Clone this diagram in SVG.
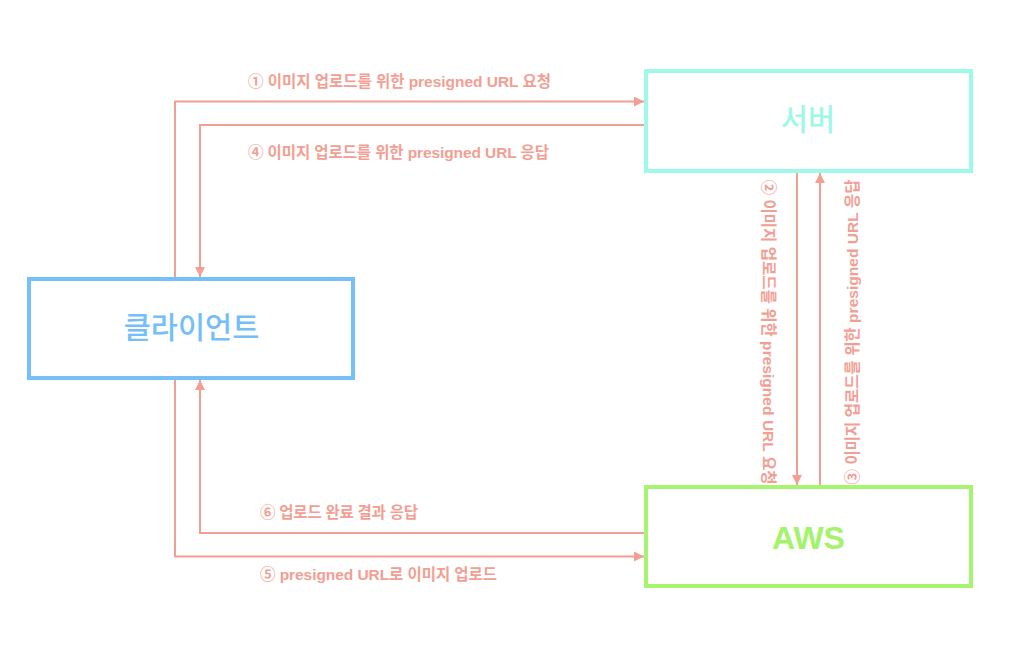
<svg xmlns="http://www.w3.org/2000/svg" width="1019" height="656" viewBox="0 0 1019 656">
<defs>
<style>
.box{fill:#ffffff;stroke-width:4}
.conn{fill:none;stroke:#F39E92;stroke-width:2}
.lbl{font-family:"Liberation Sans","Noto Sans CJK KR",sans-serif;font-weight:bold;font-size:15.5px;fill:#F39E92}
.node{font-family:"Noto Sans CJK KR",sans-serif;font-weight:500;font-size:29.5px;text-anchor:middle}
</style>
<marker id="arr" viewBox="0 0 10 10" refX="10" refY="5" markerWidth="11" markerHeight="10" markerUnits="userSpaceOnUse" orient="auto">
<path d="M0,0 L10,5 L0,10 Z" fill="#F39E92"/>
</marker>
</defs>
<rect width="1019" height="656" fill="#ffffff"/>
<g id="server">
<rect class="box" x="646" y="71" width="325" height="100" stroke="#9FF9E9"/>
<text class="node" x="808" y="130" fill="#9EF8E8">서버</text>
</g>
<g id="client">
<rect class="box" x="29" y="279" width="324" height="99" stroke="#76C0FA"/>
<text class="node" x="191.5" y="338" fill="#74BEF9">클라이언트</text>
</g>
<g id="aws">
<rect class="box" x="646" y="487" width="325" height="99" stroke="#A5F56E"/>
<text x="808.5" y="549" text-anchor="middle" font-family="Liberation Sans, sans-serif" font-weight="bold" font-size="32" fill="#A3F36B">AWS</text>
</g>
<g id="connectors">
<path class="conn" d="M175,277 V101.5 H644" marker-end="url(#arr)"/>
<path class="conn" d="M644,125 H200 V277" marker-end="url(#arr)"/>
<path class="conn" d="M797,173 V485" marker-end="url(#arr)"/>
<path class="conn" d="M820,485 V173" marker-end="url(#arr)"/>
<path class="conn" d="M644,533 H200 V380" marker-end="url(#arr)"/>
<path class="conn" d="M175,380 V556.5 H644" marker-end="url(#arr)"/>
</g>
<g id="labels">
<text class="lbl" x="248" y="87" textLength="303">① 이미지 업로드를 위한 presigned URL 요청</text>
<text class="lbl" x="248" y="158" textLength="301">④ 이미지 업로드를 위한 presigned URL 응답</text>
<text class="lbl" x="260" y="518" textLength="158">⑥ 업로드 완료 결과 응답</text>
<text class="lbl" x="260" y="580" textLength="237">⑤ presigned URL로 이미지 업로드</text>
<text class="lbl" x="-152.5" dominant-baseline="central" textLength="305" transform="translate(768,332) rotate(90)">② 이미지 업로드를 위한 presigned URL 요청</text>
<text class="lbl" x="-152.5" dominant-baseline="central" textLength="305" transform="translate(852,332) rotate(-90)">③ 이미지 업로드를 위한 presigned URL 응답</text>
</g>
</svg>
